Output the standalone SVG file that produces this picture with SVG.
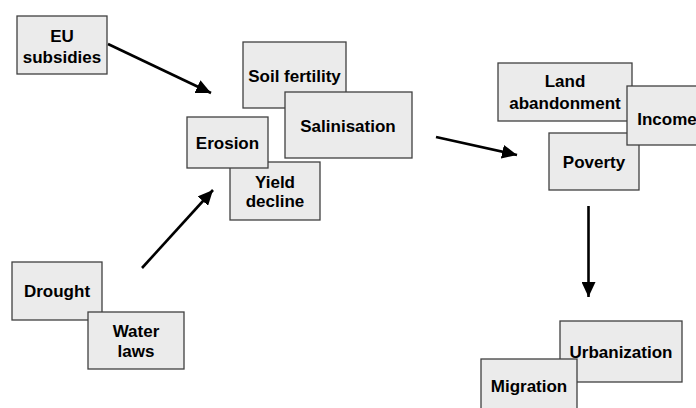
<svg xmlns="http://www.w3.org/2000/svg" width="696" height="408" viewBox="0 0 696 408">
<style>
.box{fill:#ebebeb;stroke:#404040;stroke-width:1.3}
.t{font-family:"Liberation Sans",Arial,sans-serif;font-weight:bold;font-size:17px;fill:#000;text-anchor:middle}
.c{stroke:#000;stroke-width:2.6;fill:none;marker-end:url(#ah)}
</style>
<defs>
<marker id="ah" markerUnits="userSpaceOnUse" markerWidth="16" markerHeight="14" viewBox="0 0 16 14" refX="15" refY="7" orient="auto">
<path d="M0,0 L15,7 L0,14 Z" fill="#000"/>
</marker>
</defs>
<rect width="696" height="408" fill="#fff"/>
<g id="connectors">
<line class="c" x1="108" y1="44" x2="211" y2="93"/>
<line class="c" x1="142" y1="268" x2="213" y2="190"/>
<line class="c" x1="436" y1="137" x2="517" y2="155"/>
<line class="c" x1="588.5" y1="206" x2="588.5" y2="297"/>
</g>
<g id="eu-subsidies"><rect class="box" x="17" y="16" width="90" height="58"/><text class="t" x="62" y="42">EU</text><text class="t" x="62" y="63">subsidies</text></g>
<g id="soil-fertility"><rect class="box" x="243" y="42" width="103" height="66"/><text class="t" x="294.5" y="82">Soil fertility</text></g>
<g id="salinisation"><rect class="box" x="285" y="92" width="127" height="66"/><text class="t" x="348" y="132">Salinisation</text></g>
<g id="yield-decline"><rect class="box" x="230" y="162" width="90" height="58"/><text class="t" x="275" y="188">Yield</text><text class="t" x="275" y="207">decline</text></g>
<g id="erosion"><rect class="box" x="187" y="117" width="81" height="51"/><text class="t" x="227.5" y="149">Erosion</text></g>
<g id="land-abandonment"><rect class="box" x="498" y="63" width="134" height="58"/><text class="t" x="565" y="87">Land</text><text class="t" x="565" y="109">abandonment</text></g>
<g id="poverty"><rect class="box" x="549" y="133" width="90" height="57"/><text class="t" x="594" y="168">Poverty</text></g>
<g id="income"><rect class="box" x="627" y="86" width="80" height="59"/><text class="t" x="667" y="125">Income</text></g>
<g id="drought"><rect class="box" x="12" y="262" width="90" height="58"/><text class="t" x="57" y="297">Drought</text></g>
<g id="water-laws"><rect class="box" x="88" y="312" width="96" height="57"/><text class="t" x="136" y="337">Water</text><text class="t" x="136" y="357">laws</text></g>
<g id="urbanization"><rect class="box" x="560" y="321" width="122" height="61"/><text class="t" x="621" y="358">Urbanization</text></g>
<g id="migration"><rect class="box" x="481" y="359" width="96" height="60"/><text class="t" x="529" y="392">Migration</text></g>
</svg>
